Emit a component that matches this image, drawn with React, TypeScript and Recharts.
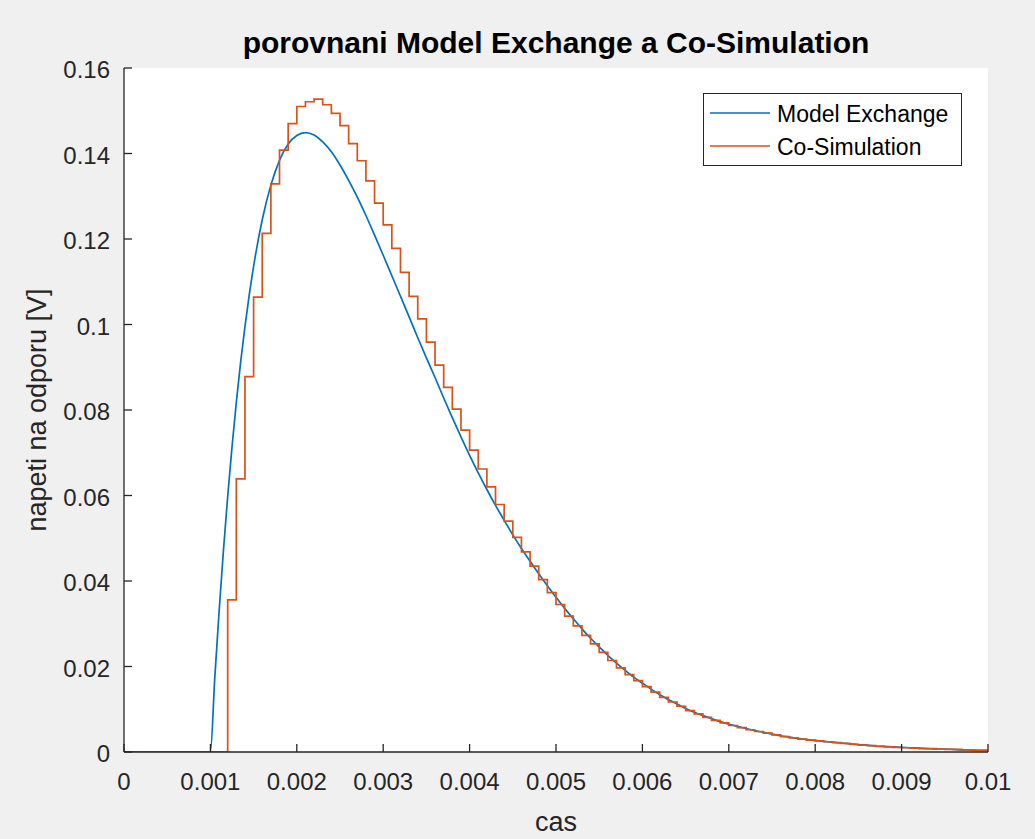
import React from 'react';
import { LineChart, Line, XAxis, YAxis, CartesianGrid, Legend } from 'recharts';

// ---- data ----
const seriesNames = ['Model Exchange', 'Co-Simulation'];
const seriesColors = ['#0072BD', '#D95319'];

const xTicks = [0, 0.001, 0.002, 0.003, 0.004, 0.005, 0.006, 0.007, 0.008, 0.009, 0.01];
const yTicks = [0, 0.02, 0.04, 0.06, 0.08, 0.1, 0.12, 0.14, 0.16];

const modelExchangeTimes = [
  0, 0.001, 0.00105, 0.0011, 0.00115, 0.0012, 0.00125, 0.0013, 0.00135, 0.0014, 0.00145,
  0.0015, 0.0016, 0.0017, 0.0018, 0.0019,
  0.002, 0.0021, 0.0022, 0.0023, 0.0024, 0.0025, 0.0026, 0.0027, 0.0028, 0.0029,
  0.003, 0.0031, 0.0032, 0.0033, 0.0034, 0.0035, 0.0036, 0.0037, 0.0038, 0.0039,
  0.004, 0.0041, 0.0042, 0.0043, 0.0044, 0.0045, 0.0046, 0.0047, 0.0048, 0.0049,
  0.005, 0.0051, 0.0052, 0.0053, 0.0054, 0.0055, 0.0056, 0.0057, 0.0058, 0.0059,
  0.006, 0.0061, 0.0062, 0.0063, 0.0064, 0.0065, 0.0066, 0.0067, 0.0068, 0.0069,
  0.007, 0.0071, 0.0072, 0.0073, 0.0074, 0.0075, 0.0076, 0.0077, 0.0078, 0.0079,
  0.008, 0.0081, 0.0082, 0.0083, 0.0084, 0.0085, 0.0086, 0.0087, 0.0088, 0.0089,
  0.009, 0.0091, 0.0092, 0.0093, 0.0094, 0.0095, 0.0096, 0.0097, 0.0098, 0.0099,
  0.01,
];
const modelExchange = [
  0, 0, 0.0171, 0.0327, 0.0469, 0.0597, 0.0713, 0.0818, 0.0912, 0.0995, 0.107,
  0.1136, 0.1245, 0.1326, 0.1384, 0.1422,
  0.1442, 0.1449, 0.1443, 0.1427, 0.1404, 0.1373, 0.1337, 0.1298, 0.1255, 0.1209,
  0.1162, 0.1114, 0.1066, 0.1018, 0.0969, 0.0922, 0.0876, 0.0828, 0.0782, 0.0737,
  0.0694, 0.0653, 0.0614, 0.0577, 0.0542, 0.0508, 0.0476, 0.0446, 0.0417, 0.0389,
  0.0362, 0.0336, 0.0312, 0.0288, 0.0266, 0.0246, 0.0226, 0.0208, 0.0191, 0.0175,
  0.0161, 0.0147, 0.0134, 0.0123, 0.0112, 0.0102, 0.0093, 0.0085, 0.0078, 0.0071,
  0.0065, 0.006, 0.0055, 0.005, 0.0046, 0.0042, 0.0038, 0.0035, 0.0032, 0.0029,
  0.0027, 0.0025, 0.0023, 0.0021, 0.0019, 0.0017, 0.0016, 0.0014, 0.0013, 0.0012,
  0.0011, 0.001, 0.0009, 0.0008, 0.0007, 0.0007, 0.0006, 0.0005, 0.0005, 0.0004,
  0.0004,
];

const stepTimes = [
  0, 0.0001, 0.0002, 0.0003, 0.0004, 0.0005, 0.0006, 0.0007, 0.0008, 0.0009,
  0.001, 0.0011, 0.0012, 0.0013, 0.0014, 0.0015, 0.0016, 0.0017, 0.0018, 0.0019,
  0.002, 0.0021, 0.0022, 0.0023, 0.0024, 0.0025, 0.0026, 0.0027, 0.0028, 0.0029,
  0.003, 0.0031, 0.0032, 0.0033, 0.0034, 0.0035, 0.0036, 0.0037, 0.0038, 0.0039,
  0.004, 0.0041, 0.0042, 0.0043, 0.0044, 0.0045, 0.0046, 0.0047, 0.0048, 0.0049,
  0.005, 0.0051, 0.0052, 0.0053, 0.0054, 0.0055, 0.0056, 0.0057, 0.0058, 0.0059,
  0.006, 0.0061, 0.0062, 0.0063, 0.0064, 0.0065, 0.0066, 0.0067, 0.0068, 0.0069,
  0.007, 0.0071, 0.0072, 0.0073, 0.0074, 0.0075, 0.0076, 0.0077, 0.0078, 0.0079,
  0.008, 0.0081, 0.0082, 0.0083, 0.0084, 0.0085, 0.0086, 0.0087, 0.0088, 0.0089,
  0.009, 0.0091, 0.0092, 0.0093, 0.0094, 0.0095, 0.0096, 0.0097, 0.0098, 0.0099,
  0.01,
];
const coSimulation = [
  0, 0, 0, 0, 0, 0, 0, 0, 0, 0,
  0, 0, 0.0356, 0.0639, 0.0878, 0.1064, 0.1213, 0.1329, 0.1408, 0.147,
  0.151, 0.1521, 0.1527, 0.1514, 0.1494, 0.1465, 0.1423, 0.1383, 0.1336, 0.1284,
  0.1233, 0.1178, 0.1122, 0.1066, 0.1013, 0.0959, 0.0905, 0.0853, 0.0802, 0.0753,
  0.0706, 0.0662, 0.062, 0.0579, 0.054, 0.0502, 0.0468, 0.0435, 0.0403, 0.0373,
  0.0345, 0.0318, 0.0295, 0.0273, 0.0253, 0.0233, 0.0214, 0.0197, 0.0181, 0.0167,
  0.0153, 0.014, 0.0128, 0.0117, 0.0107, 0.0097, 0.0089, 0.0081, 0.0074, 0.0068,
  0.0062, 0.0057, 0.0052, 0.0048, 0.0044, 0.004, 0.0036, 0.0033, 0.003, 0.0028,
  0.0026, 0.0024, 0.0022, 0.002, 0.0018, 0.0016, 0.0015, 0.0013, 0.0012, 0.0011,
  0.001, 0.0009, 0.0008, 0.0008, 0.0007, 0.0006, 0.0006, 0.0005, 0.0004, 0.0004,
  0.0004,
];

const meData = modelExchangeTimes.map((t, i) => ({ t, v: modelExchange[i] }));
const csData = stepTimes.map((t, i) => ({ t, v: coSimulation[i] }));

const FONT = '"Liberation Sans", Arial, Helvetica, sans-serif';
const AXIS = '#262626';

const fmtX = (v: number) => (v === 0 ? '0' : String(parseFloat(v.toFixed(3))));
const fmtY = (v: number) => (v === 0 ? '0' : String(parseFloat(v.toFixed(2))));

const XTick = (props: any) => {
  const { x, y, payload } = props;
  return (
    <g>
      <line x1={x} y1={y} x2={x} y2={y - 8} stroke={AXIS} strokeWidth={1.3} />
      <text x={x} y={y + 38} textAnchor="middle" fontSize={24} fill={AXIS} fontFamily={FONT}>
        {fmtX(payload.value)}
      </text>
    </g>
  );
};

const YTick = (props: any) => {
  const { x, y, payload } = props;
  return (
    <g>
      <line x1={x} y1={y} x2={x + 8} y2={y} stroke={AXIS} strokeWidth={1.3} />
      <text x={x - 14} y={y + 10} textAnchor="end" fontSize={24} fill={AXIS} fontFamily={FONT}>
        {fmtY(payload.value)}
      </text>
    </g>
  );
};

const renderLegend = () => (
  <div
    style={{
      width: 259,
      height: 73,
      background: '#ffffff',
      border: '1px solid #262626',
      boxSizing: 'border-box',
    }}
  >
    <svg width={257} height={71} style={{ display: 'block' }}>
      {seriesNames.map((name, i) => (
        <g key={name}>
          <line x1={6} x2={66} y1={19 + i * 33} y2={19 + i * 33} stroke={seriesColors[i]} strokeWidth={1.7} />
          <text x={73} y={28 + i * 33} fontSize={23} fill="#000" fontFamily={FONT}>
            {name}
          </text>
        </g>
      ))}
    </svg>
  </div>
);

export default function App() {
  return (
    <div
      style={{
        position: 'absolute',
        left: 0,
        top: 0,
        width: 1035,
        height: 839,
        background: '#f0f0f0',
        fontFamily: FONT,
        overflow: 'hidden',
      }}
    >
      <div style={{ position: 'absolute', left: 0, top: 0 }}>
        <LineChart width={1035} height={839} margin={{ top: 68, right: 47, bottom: 47, left: 64 }}>
          <CartesianGrid horizontal={false} vertical={false} fill="#ffffff" stroke="none" />
          <XAxis
            dataKey="t"
            type="number"
            domain={[0, 0.01]}
            ticks={xTicks}
            interval={0}
            allowDataOverflow
            height={40}
            tickSize={0}
            tickMargin={0}
            tickLine={false}
            tick={<XTick />}
            axisLine={{ stroke: AXIS, strokeWidth: 1.3 }}
          />
          <YAxis
            type="number"
            domain={[0, 0.16]}
            ticks={yTicks}
            interval={0}
            allowDataOverflow
            width={60}
            tickSize={0}
            tickMargin={0}
            tickLine={false}
            tick={<YTick />}
            axisLine={{ stroke: AXIS, strokeWidth: 1.3 }}
          />
          <Legend
            layout="vertical"
            align="center"
            verticalAlign="middle"
            content={renderLegend}
            wrapperStyle={{ position: 'absolute', left: 703, top: 93, width: 259, height: 73, margin: 0, padding: 0 }}
          />
          <Line
            data={meData}
            dataKey="v"
            name={seriesNames[0]}
            type="monotone"
            stroke={seriesColors[0]}
            strokeWidth={1.7}
            dot={false}
            activeDot={false}
            isAnimationActive={false}
          />
          <Line
            data={csData}
            dataKey="v"
            name={seriesNames[1]}
            type="stepAfter"
            stroke={seriesColors[1]}
            strokeWidth={1.7}
            dot={false}
            activeDot={false}
            isAnimationActive={false}
          />
        </LineChart>
      </div>
      <svg
        width={1035}
        height={839}
        style={{ position: 'absolute', left: 0, top: 0, pointerEvents: 'none' }}
      >
        <text x={556} y={53} textAnchor="middle" fontSize={30} fontWeight="bold" fill="#000" fontFamily={FONT}>
          porovnani Model Exchange a Co-Simulation
        </text>
        <text x={556} y={831} textAnchor="middle" fontSize={27} fill={AXIS} fontFamily={FONT}>
          cas
        </text>
        <text
          x={0}
          y={0}
          transform="translate(46,410) rotate(-90)"
          textAnchor="middle"
          fontSize={27}
          fill={AXIS}
          fontFamily={FONT}
        >
          napeti na odporu [V]
        </text>
      </svg>
    </div>
  );
}
